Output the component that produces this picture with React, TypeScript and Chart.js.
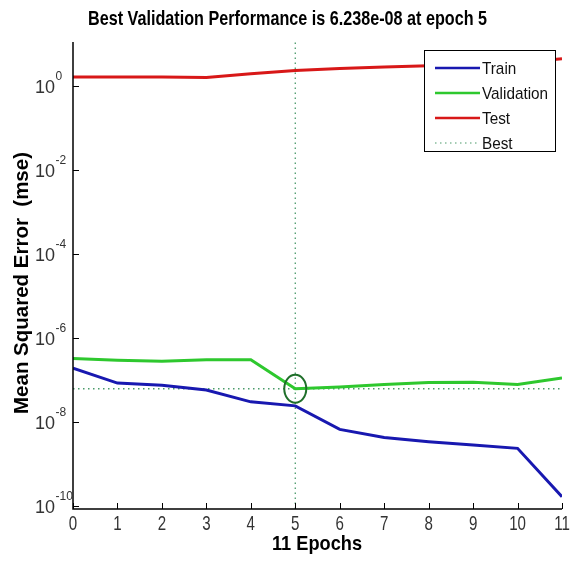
import React, { useEffect, useRef } from 'react';
import { Chart, registerables } from 'chart.js';

Chart.register(...registerables);

// ---- data ----
const EPOCHS = [0, 1, 2, 3, 4, 5, 6, 7, 8, 9, 10, 11];
const TRAIN = [1.93e-7, 8.5e-8, 7.6e-8, 5.8e-8, 3.04e-8, 2.44e-8, 6.7e-9, 4.3e-9, 3.4e-9, 2.83e-9, 2.37e-9, 1.66e-10];
const VALIDATION = [3.29e-7, 2.99e-7, 2.83e-7, 3.05e-7, 3.05e-7, 6.238e-8, 6.9e-8, 7.9e-8, 8.8e-8, 8.9e-8, 7.9e-8, 1.13e-7];
const TEST = [1.68, 1.68, 1.66, 1.62, 1.99, 2.4, 2.68, 2.91, 3.08, 3.34, 3.63, 4.57];
const BEST_EPOCH = 5;
const BEST_VALUE = 6.238e-8;

const X_TICKS = [0, 1, 2, 3, 4, 5, 6, 7, 8, 9, 10, 11];
const Y_TICK_EXPONENTS = [-10, -8, -6, -4, -2, 0];
const X_MIN = 0;
const X_MAX = 11;
const Y_MIN = 8.5e-11;
const Y_MAX = 11.4;

const TITLE = 'Best Validation Performance is 6.238e-08 at epoch 5';
const X_TITLE = '11 Epochs';
const Y_TITLE = 'Mean Squared Error  (mse)';
const LEGEND_LABELS = ['Train', 'Validation', 'Test', 'Best'];

// ---- styles ----
const FONT = '"Liberation Sans", Arial, Helvetica, sans-serif';
const C_TRAIN = '#1818b0';
const C_VAL = '#2ec82e';
const C_TEST = '#d81818';
const C_BEST = '#4a9a6a';
const C_CIRCLE = '#1f6f2a';

function fitText(
  ctx: CanvasRenderingContext2D,
  text: string,
  x: number,
  y: number,
  font: string,
  targetW: number,
  align: CanvasTextAlign,
  rotate = 0,
  color = '#000'
) {
  ctx.save();
  ctx.font = font;
  ctx.fillStyle = color;
  const w = ctx.measureText(text).width;
  const s = targetW / w;
  ctx.translate(x, y);
  if (rotate) ctx.rotate(rotate);
  ctx.scale(s, 1);
  ctx.textAlign = align;
  ctx.textBaseline = 'alphabetic';
  ctx.fillText(text, 0, 0);
  ctx.restore();
}

const decorPlugin = {
  id: 'matlabDecor',
  afterDraw(chart: any) {
    const ctx: CanvasRenderingContext2D = chart.ctx;
    const { left, right, top, bottom } = chart.chartArea;
    const xs = chart.scales.x;
    const ys = chart.scales.y;

    // best circle (ellipse)
    const bx = xs.getPixelForValue(BEST_EPOCH);
    const by = ys.getPixelForValue(BEST_VALUE);
    ctx.save();
    ctx.strokeStyle = C_CIRCLE;
    ctx.lineWidth = 2;
    ctx.beginPath();
    ctx.ellipse(bx, by, 11, 14, 0, 0, Math.PI * 2);
    ctx.stroke();
    ctx.restore();

    // axes
    ctx.save();
    ctx.strokeStyle = '#000';
    ctx.lineWidth = 1.5;
    ctx.beginPath();
    ctx.moveTo(left, top);
    ctx.lineTo(left, bottom);
    ctx.lineTo(right, bottom);
    ctx.stroke();
    ctx.lineWidth = 1;
    ctx.beginPath();
    for (const t of X_TICKS) {
      const px = Math.round(xs.getPixelForValue(t)) + 0.5;
      ctx.moveTo(px, bottom);
      ctx.lineTo(px, bottom - 6);
    }
    for (const e of Y_TICK_EXPONENTS) {
      const py = Math.round(ys.getPixelForValue(Math.pow(10, e))) + 0.5;
      ctx.moveTo(left, py);
      ctx.lineTo(left + 6, py);
    }
    ctx.stroke();
    ctx.restore();

    // y tick labels
    ctx.save();
    ctx.fillStyle = '#333';
    ctx.textBaseline = 'alphabetic';
    for (const e of Y_TICK_EXPONENTS) {
      const py = ys.getPixelForValue(Math.pow(10, e));
      ctx.font = `18px ${FONT}`;
      ctx.textAlign = 'right';
      ctx.fillText('10', 55, py + 6.5);
      ctx.font = `12px ${FONT}`;
      ctx.textAlign = 'left';
      ctx.fillText(String(e), 55.5, py - 6);
    }
    ctx.restore();

    // x tick labels
    for (const t of X_TICKS) {
      const px = xs.getPixelForValue(t);
      ctx.save();
      ctx.fillStyle = '#333';
      ctx.font = `21px ${FONT}`;
      ctx.translate(px, 530);
      ctx.scale(0.72, 1);
      ctx.textAlign = 'center';
      ctx.fillText(String(t), 0, 0);
      ctx.restore();
    }

    // titles
    fitText(ctx, TITLE, 287.5, 25, `bold 21px ${FONT}`, 399, 'center');
    fitText(ctx, X_TITLE, 317, 550, `bold 21px ${FONT}`, 90, 'center');
    fitText(ctx, Y_TITLE, 28, 283, `bold 21px ${FONT}`, 262, 'center', -Math.PI / 2);

    // legend
    const lx0 = 424, ly0 = 50, lx1 = 555, ly1 = 151;
    ctx.save();
    ctx.fillStyle = '#fff';
    ctx.fillRect(lx0, ly0, lx1 - lx0, ly1 - ly0);
    ctx.strokeStyle = '#000';
    ctx.lineWidth = 1;
    ctx.strokeRect(lx0 + 0.5, ly0 + 0.5, lx1 - lx0, ly1 - ly0);
    const datasets = chart.data.datasets;
    const rowY = [68, 93, 118, 143];
    LEGEND_LABELS.forEach((lab: string, i: number) => {
      const ds = datasets[i];
      const yy = rowY[i];
      ctx.save();
      ctx.strokeStyle = ds.borderColor;
      ctx.lineWidth = i === 3 ? 1.2 : 2.5;
      ctx.setLineDash(ds.borderDash || []);
      ctx.beginPath();
      ctx.moveTo(435, yy);
      ctx.lineTo(480, yy);
      ctx.stroke();
      ctx.restore();
      ctx.save();
      ctx.fillStyle = '#111';
      ctx.font = `17px ${FONT}`;
      ctx.translate(482, yy + 6);
      ctx.scale(0.9, 1);
      ctx.textAlign = 'left';
      ctx.fillText(lab, 0, 0);
      ctx.restore();
    });
    ctx.restore();
  },
};

export default function App() {
  const ref = useRef<HTMLCanvasElement | null>(null);

  useEffect(() => {
    document.body.style.margin = '0';
    const canvas = ref.current;
    if (!canvas) return;
    const toPts = (arr: number[]) => EPOCHS.map((e, i) => ({ x: e, y: arr[i] }));
    const chart = new Chart(canvas, {
      type: 'line',
      data: {
        datasets: [
          { label: 'Train', data: toPts(TRAIN), borderColor: C_TRAIN, borderWidth: 3, pointRadius: 0, tension: 0, fill: false },
          { label: 'Validation', data: toPts(VALIDATION), borderColor: C_VAL, borderWidth: 3, pointRadius: 0, tension: 0, fill: false },
          { label: 'Test', data: toPts(TEST), borderColor: C_TEST, borderWidth: 3, pointRadius: 0, tension: 0, fill: false },
          {
            label: 'Best',
            data: [{ x: X_MIN, y: BEST_VALUE }, { x: X_MAX, y: BEST_VALUE }],
            borderColor: C_BEST, borderWidth: 1.3, borderDash: [1.5, 3.5], pointRadius: 0, fill: false,
          },
          {
            label: 'BestV',
            data: [{ x: BEST_EPOCH, y: Y_MIN }, { x: BEST_EPOCH, y: Y_MAX }],
            borderColor: C_BEST, borderWidth: 1.3, borderDash: [1.5, 3.5], pointRadius: 0, fill: false,
          },
        ],
      } as any,
      options: {
        responsive: false,
        animation: false,
        devicePixelRatio: 1,
        layout: { padding: { top: 42, right: 13, left: 0, bottom: 0 } },
        plugins: { legend: { display: false }, title: { display: false }, tooltip: { enabled: false } },
        scales: {
          x: {
            type: 'linear',
            min: X_MIN,
            max: X_MAX,
            grid: { display: false },
            border: { display: false },
            ticks: { display: false },
            afterFit: (s: any) => { s.height = 53; },
          },
          y: {
            type: 'logarithmic',
            min: Y_MIN,
            max: Y_MAX,
            grid: { display: false },
            border: { display: false },
            ticks: { display: false },
            afterFit: (s: any) => { s.width = 73; },
          },
        },
      } as any,
      plugins: [decorPlugin],
    });
    return () => chart.destroy();
  }, []);

  return (
    <div style={{ position: 'absolute', left: 0, top: 0, width: 575, height: 562, background: '#fff' }}>
      <canvas ref={ref} width={575} height={562} />
    </div>
  );
}
